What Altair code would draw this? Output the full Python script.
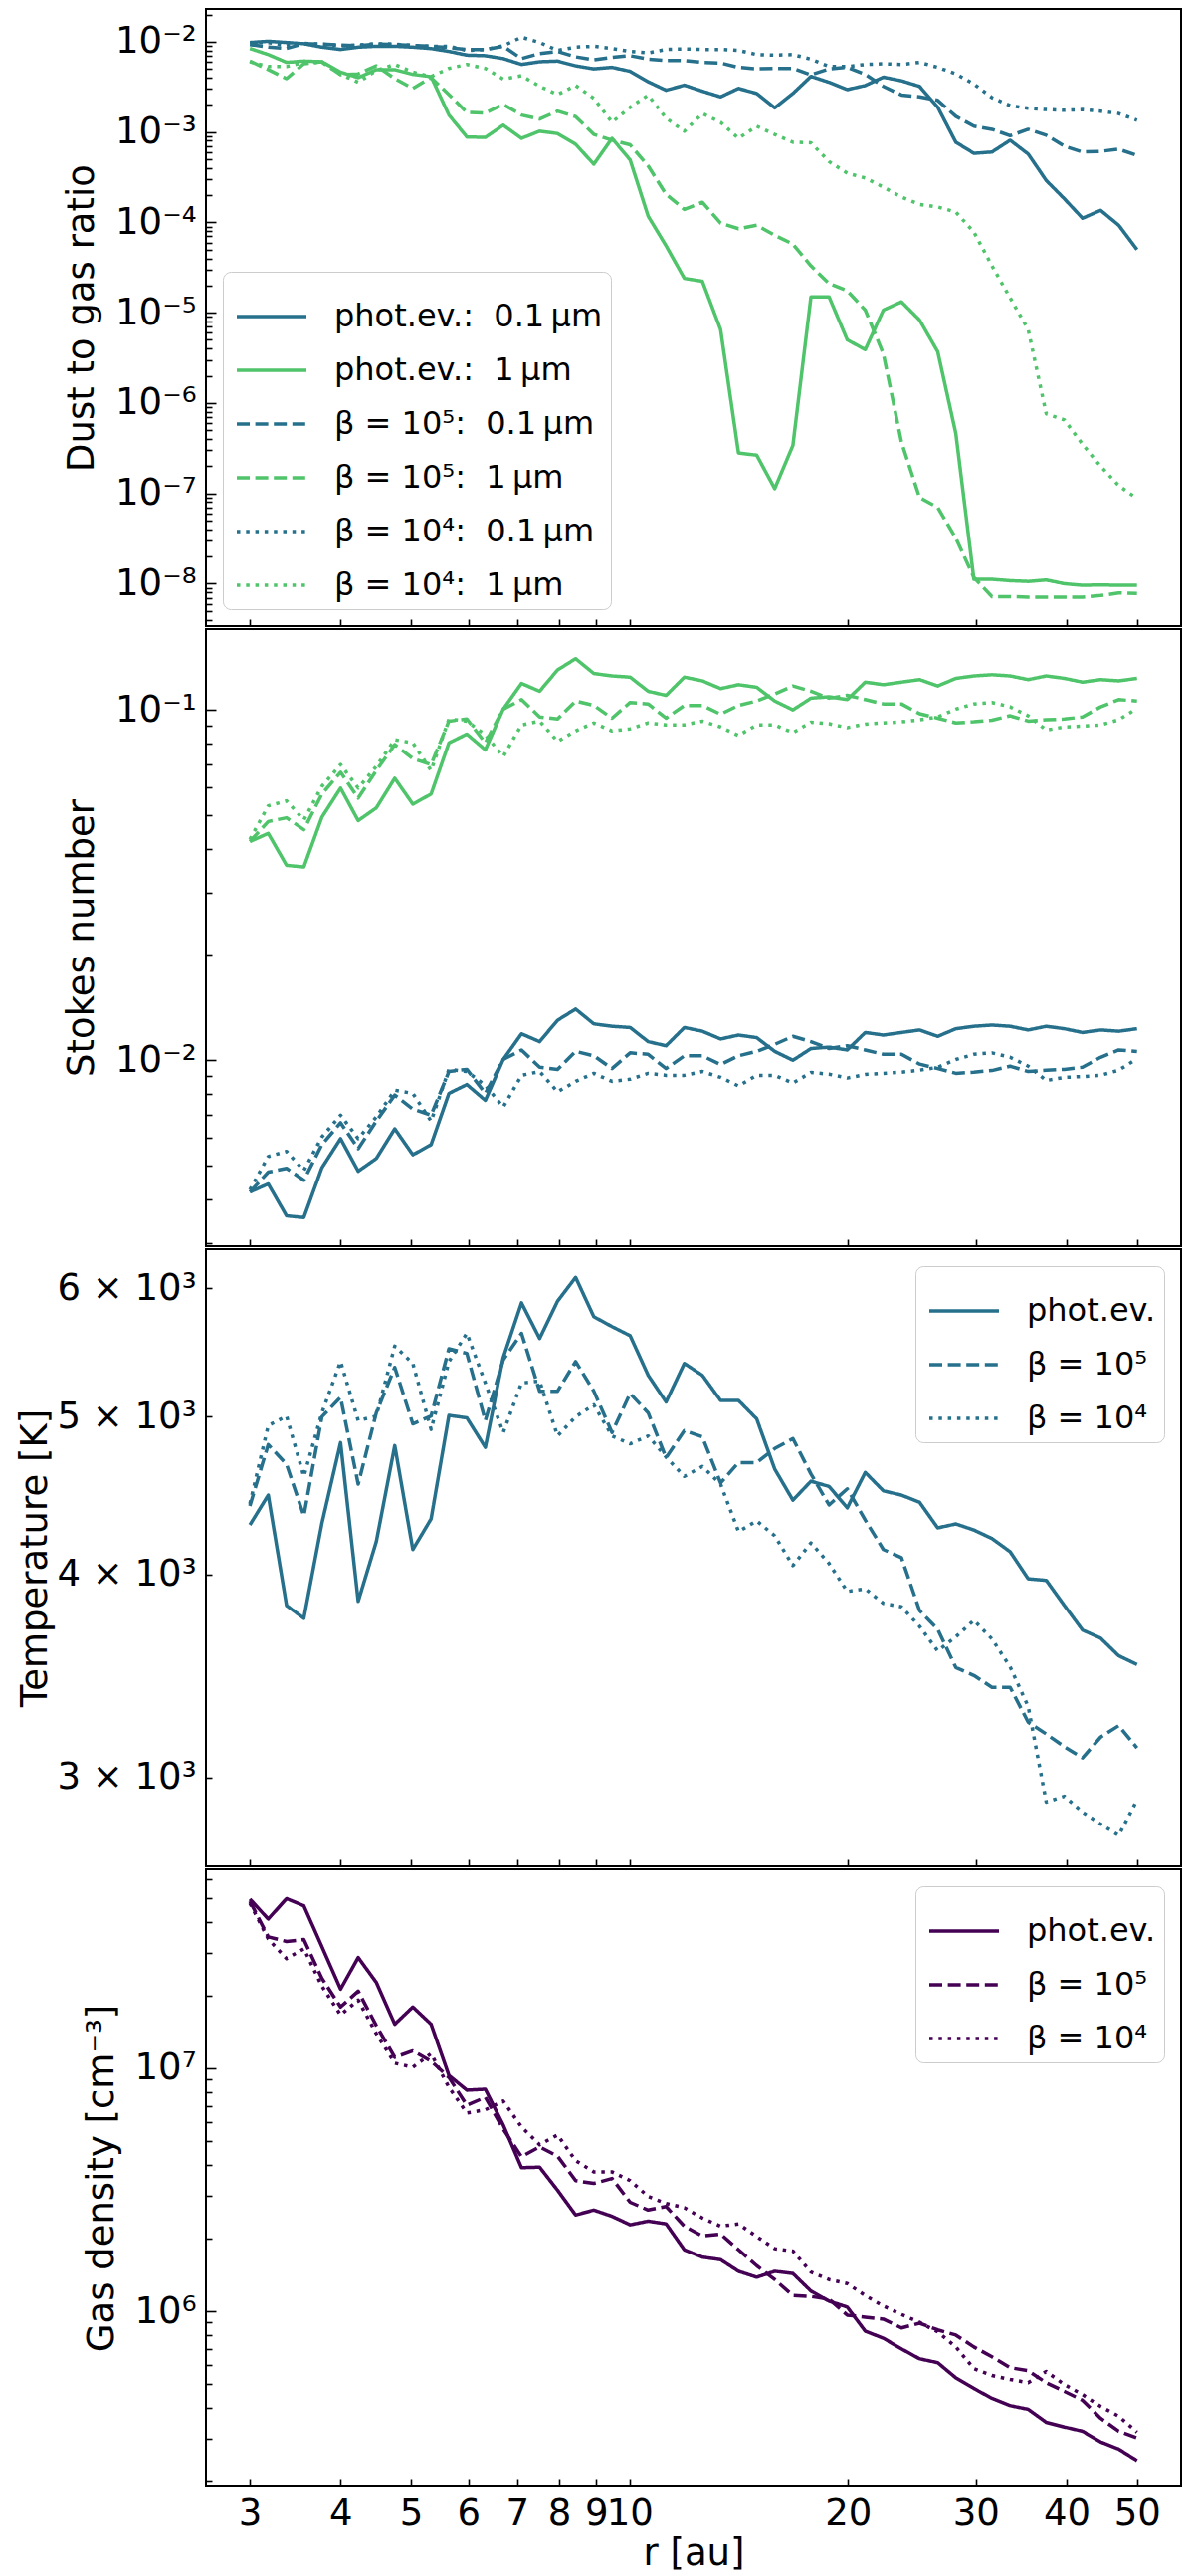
import altair as alt
import pandas as pd

# radius grid [au]
R = [3.00, 3.18, 3.37, 3.56, 3.77, 4.00, 4.23, 4.48, 4.75, 5.03,
     5.33, 5.64, 5.97, 6.33, 6.70, 7.10, 7.52, 7.96, 8.43, 8.93,
     9.46, 10.02, 10.61, 11.23, 11.90, 12.60, 13.35, 14.13, 14.97, 15.85,
     16.79, 17.78, 18.83, 19.95, 21.12, 22.37, 23.69, 25.09, 26.58, 28.15,
     29.81, 31.57, 33.44, 35.41, 37.50, 39.72, 42.07, 44.55, 47.18, 50.00]

# dust to gas ratio
DTG_PE_01 = [9.8e-3, 1.01e-2, 9.8e-3, 9.5e-3, 8.7e-3, 8.2e-3, 8.7e-3, 8.9e-3, 8.9e-3, 8.7e-3,
             8.4e-3, 7.8e-3, 7.1e-3, 7.0e-3, 6.5e-3, 5.6e-3, 6.0e-3, 6.1e-3, 5.4e-3, 5.0e-3,
             5.2e-3, 4.7e-3, 3.6e-3, 2.9e-3, 3.3e-3, 2.83e-3, 2.45e-3, 3.04e-3, 2.67e-3, 1.85e-3,
             2.67e-3, 4.13e-3, 3.55e-3, 2.95e-3, 3.27e-3, 4.05e-3, 3.69e-3, 3.2e-3, 1.88e-3, 7.7e-4,
             5.8e-4, 6.0e-4, 8.1e-4, 5.7e-4, 2.9e-4, 1.82e-4, 1.11e-4, 1.36e-4, 9.3e-5, 5.0e-5]
DTG_PE_1 = [8.4e-3, 7.2e-3, 5.9e-3, 6.1e-3, 6.0e-3, 4.6e-3, 4.0e-3, 4.9e-3, 4.9e-3, 4.35e-3,
            4.1e-3, 1.54e-3, 8.8e-4, 8.7e-4, 1.19e-3, 8.5e-4, 1.02e-3, 9.6e-4, 7.3e-4, 4.4e-4,
            8.5e-4, 4.9e-4, 1.17e-4, 5.5e-5, 2.4e-5, 2.23e-5, 6.5e-6, 2.8e-7, 2.65e-7, 1.13e-7,
            3.4e-7, 1.5e-5, 1.5e-5, 5.0e-6, 3.9e-6, 1.07e-5, 1.32e-5, 8.3e-6, 3.7e-6, 4.6e-7,
            1.12e-8, 1.12e-8, 1.08e-8, 1.06e-8, 1.10e-8, 1.0e-8, 9.6e-9, 9.7e-9, 9.6e-9, 9.6e-9]
DTG_B5_01 = [9.3e-3, 8.7e-3, 8.4e-3, 9.5e-3, 9.4e-3, 9.2e-3, 9.0e-3, 9.4e-3, 9.3e-3, 9.1e-3,
             8.9e-3, 8.6e-3, 8.2e-3, 8.2e-3, 8.9e-3, 6.5e-3, 7.4e-3, 7.8e-3, 6.8e-3, 6.3e-3,
             6.7e-3, 7.0e-3, 6.4e-3, 6.2e-3, 6.2e-3, 5.9e-3, 5.8e-3, 5.2e-3, 5.0e-3, 5.06e-3,
             5.06e-3, 4.3e-3, 5.0e-3, 5.2e-3, 4.35e-3, 3.2e-3, 2.57e-3, 2.45e-3, 2.24e-3, 1.49e-3,
             1.16e-3, 1.07e-3, 9.1e-4, 1.07e-3, 9.2e-4, 6.95e-4, 6.0e-4, 6.1e-4, 6.45e-4, 5.5e-4]
DTG_B5_1 = [6.1e-3, 4.9e-3, 3.9e-3, 5.7e-3, 6.0e-3, 4.3e-3, 4.4e-3, 5.4e-3, 3.9e-3, 3.04e-3,
            4.0e-3, 2.6e-3, 1.65e-3, 1.62e-3, 2.02e-3, 1.54e-3, 1.39e-3, 1.70e-3, 1.48e-3, 9.4e-4,
            8.1e-4, 7.2e-4, 4.2e-4, 2.04e-4, 1.39e-4, 1.67e-4, 9.8e-5, 8.5e-5, 9.3e-5, 7.2e-5,
            5.75e-5, 3.3e-5, 2.1e-5, 1.75e-5, 1.07e-5, 3.5e-6, 3.7e-7, 9.0e-8, 7.0e-8, 3.2e-8,
            1.17e-8, 7.2e-9, 7.2e-9, 7.1e-9, 7.1e-9, 7.1e-9, 7.1e-9, 7.4e-9, 7.9e-9, 7.8e-9]
DTG_B4_01 = [9.8e-3, 9.8e-3, 9.0e-3, 9.6e-3, 9.4e-3, 9.0e-3, 9.2e-3, 9.5e-3, 9.4e-3, 9.1e-3,
             8.9e-3, 8.9e-3, 8.0e-3, 8.2e-3, 9.0e-3, 1.12e-2, 9.8e-3, 8.0e-3, 8.7e-3, 8.9e-3,
             8.4e-3, 7.8e-3, 7.5e-3, 8.2e-3, 8.3e-3, 8.2e-3, 8.2e-3, 8.0e-3, 7.2e-3, 7.1e-3,
             7.2e-3, 6.4e-3, 5.3e-3, 5.3e-3, 5.6e-3, 5.7e-3, 5.6e-3, 5.9e-3, 5.2e-3, 4.4e-3,
             3.4e-3, 2.4e-3, 1.96e-3, 1.83e-3, 1.77e-3, 1.74e-3, 1.77e-3, 1.70e-3, 1.60e-3, 1.35e-3]
DTG_B4_1 = [6.0e-3, 5.3e-3, 5.3e-3, 5.9e-3, 5.9e-3, 4.35e-3, 3.55e-3, 4.8e-3, 5.6e-3, 4.6e-3,
            4.1e-3, 5.06e-3, 5.6e-3, 5.06e-3, 3.85e-3, 4.2e-3, 3.2e-3, 2.6e-3, 3.27e-3, 2.36e-3,
            1.28e-3, 1.88e-3, 2.56e-3, 1.42e-3, 1.02e-3, 1.60e-3, 1.28e-3, 8.5e-4, 1.16e-3, 9.4e-4,
            7.7e-4, 7.6e-4, 4.7e-4, 3.5e-4, 3.1e-4, 2.45e-4, 1.9e-4, 1.58e-4, 1.48e-4, 1.30e-4,
            7.8e-5, 3.3e-5, 1.46e-5, 6.5e-6, 7.6e-7, 6.5e-7, 3.5e-7, 2.0e-7, 1.22e-7, 8.8e-8]

# Stokes number
ST_PE_01 = [4.21e-3, 4.44e-3, 3.60e-3, 3.56e-3, 4.94e-3, 5.98e-3, 4.83e-3, 5.25e-3, 6.38e-3, 5.38e-3,
            5.75e-3, 8.05e-3, 8.53e-3, 7.69e-3, 1.005e-2, 1.19e-2, 1.13e-2, 1.30e-2, 1.40e-2, 1.27e-2,
            1.25e-2, 1.24e-2, 1.13e-2, 1.10e-2, 1.24e-2, 1.21e-2, 1.15e-2, 1.18e-2, 1.16e-2, 1.06e-2,
            1.00e-2, 1.08e-2, 1.09e-2, 1.07e-2, 1.20e-2, 1.18e-2, 1.20e-2, 1.22e-2, 1.17e-2, 1.23e-2,
            1.25e-2, 1.26e-2, 1.25e-2, 1.22e-2, 1.25e-2, 1.23e-2, 1.20e-2, 1.22e-2, 1.21e-2, 1.23e-2]
ST_PE_1 = [4.21e-2, 4.44e-2, 3.60e-2, 3.56e-2, 4.94e-2, 5.98e-2, 4.83e-2, 5.25e-2, 6.38e-2, 5.38e-2,
           5.75e-2, 8.05e-2, 8.53e-2, 7.69e-2, 0.1005, 0.119, 0.113, 0.130, 0.140, 0.127,
           0.125, 0.124, 0.113, 0.110, 0.124, 0.121, 0.115, 0.118, 0.116, 0.106,
           0.100, 0.108, 0.109, 0.107, 0.120, 0.118, 0.120, 0.122, 0.117, 0.123,
           0.125, 0.126, 0.125, 0.122, 0.125, 0.123, 0.120, 0.122, 0.121, 0.123]
ST_B5_01 = [4.21e-3, 4.80e-3, 4.92e-3, 4.55e-3, 5.75e-3, 6.64e-3, 5.60e-3, 6.71e-3, 7.96e-3, 7.26e-3,
            6.98e-3, 9.29e-3, 9.42e-3, 8.05e-3, 1.005e-2, 1.07e-2, 9.55e-3, 9.42e-3, 1.06e-2, 1.03e-2,
            9.47e-3, 1.05e-2, 1.04e-2, 9.47e-3, 1.03e-2, 1.03e-2, 9.72e-3, 1.03e-2, 1.06e-2, 1.11e-2,
            1.17e-2, 1.13e-2, 1.08e-2, 1.10e-2, 1.07e-2, 1.04e-2, 1.04e-2, 9.75e-3, 9.47e-3, 9.18e-3,
            9.25e-3, 9.35e-3, 9.62e-3, 9.29e-3, 9.37e-3, 9.42e-3, 9.55e-3, 1.02e-2, 1.07e-2, 1.06e-2]
ST_B5_1 = [4.21e-2, 4.80e-2, 4.92e-2, 4.55e-2, 5.75e-2, 6.64e-2, 5.60e-2, 6.71e-2, 7.96e-2, 7.26e-2,
           6.98e-2, 9.29e-2, 9.42e-2, 8.05e-2, 0.1005, 0.107, 9.55e-2, 9.42e-2, 0.106, 0.103,
           9.47e-2, 0.105, 0.104, 9.47e-2, 0.103, 0.103, 9.72e-2, 0.103, 0.106, 0.111,
           0.117, 0.113, 0.108, 0.110, 0.107, 0.104, 0.104, 9.75e-2, 9.47e-2, 9.18e-2,
           9.25e-2, 9.35e-2, 9.62e-2, 9.29e-2, 9.37e-2, 9.42e-2, 9.55e-2, 0.102, 0.107, 0.106]
ST_B4_01 = [4.27e-3, 5.32e-3, 5.50e-3, 4.85e-3, 6.05e-3, 6.98e-3, 5.98e-3, 6.90e-3, 8.22e-3, 8.05e-3,
            6.71e-3, 9.42e-3, 9.29e-3, 8.49e-3, 7.36e-3, 9.06e-3, 9.29e-3, 8.13e-3, 8.71e-3, 9.18e-3,
            8.71e-3, 8.83e-3, 9.18e-3, 9.06e-3, 9.06e-3, 9.29e-3, 8.94e-3, 8.45e-3, 9.06e-3, 9.06e-3,
            8.61e-3, 9.23e-3, 9.13e-3, 8.90e-3, 9.11e-3, 9.18e-3, 9.25e-3, 9.37e-3, 9.55e-3, 1.005e-2,
            1.04e-2, 1.05e-2, 1.02e-2, 9.62e-3, 8.76e-3, 8.94e-3, 8.99e-3, 9.06e-3, 9.37e-3, 1.01e-2]
ST_B4_1 = [4.27e-2, 5.32e-2, 5.50e-2, 4.85e-2, 6.05e-2, 6.98e-2, 5.98e-2, 6.90e-2, 8.22e-2, 8.05e-2,
           6.71e-2, 9.42e-2, 9.29e-2, 8.49e-2, 7.36e-2, 9.06e-2, 9.29e-2, 8.13e-2, 8.71e-2, 9.18e-2,
           8.71e-2, 8.83e-2, 9.18e-2, 9.06e-2, 9.06e-2, 9.29e-2, 8.94e-2, 8.45e-2, 9.06e-2, 9.06e-2,
           8.61e-2, 9.23e-2, 9.13e-2, 8.90e-2, 9.11e-2, 9.18e-2, 9.25e-2, 9.37e-2, 9.55e-2, 0.1005,
           0.104, 0.105, 0.102, 9.62e-2, 8.76e-2, 8.94e-2, 8.99e-2, 9.06e-2, 9.37e-2, 0.101]

# temperature [K]
T_PE = [4290, 4475, 3827, 3758, 4300, 4820, 3850, 4190, 4800, 4143,
        4327, 5010, 4992, 4788, 5437, 5876, 5587, 5890, 6092, 5762,
        5682, 5609, 5303, 5106, 5393, 5303, 5117, 5117, 4985, 4643,
        4443, 4564, 4530, 4395, 4621, 4502, 4475, 4430, 4272, 4296,
        4259, 4208, 4130, 3975, 3966, 3827, 3696, 3654, 3564, 3520]
T_B5 = [4407, 4807, 4674, 4345, 5000, 5140, 4545, 5028, 5363, 4950,
        5005, 5506, 5470, 4973, 5420, 5628, 5185, 5185, 5407, 5185,
        4890, 5168, 5028, 4719, 4903, 4860, 4552, 4686, 4686, 4780,
        4848, 4611, 4413, 4515, 4320, 4143, 4096, 3800, 3700, 3505,
        3466, 3408, 3408, 3244, 3190, 3133, 3084, 3176, 3228, 3128]
T_B4 = [4420, 4938, 5005, 4595, 5028, 5407, 4973, 5005, 5527, 5393,
        4911, 5407, 5628, 5245, 4890, 5245, 5260, 4866, 5000, 5085,
        4866, 4812, 4866, 4722, 4595, 4660, 4545, 4250, 4315, 4224,
        4050, 4182, 4062, 3904, 3919, 3839, 3820, 3716, 3588, 3661,
        3748, 3650, 3508, 3317, 2897, 2921, 2856, 2808, 2763, 2905]

# gas density [cm^-3]
N_PE = [4.98e7, 4.12e7, 5.0e7, 4.67e7, 3.17e7, 2.12e7, 2.86e7, 2.26e7, 1.52e7, 1.79e7,
        1.52e7, 9.35e6, 8.13e6, 8.2e6, 5.85e6, 3.90e6, 3.92e6, 3.15e6, 2.49e6, 2.61e6,
        2.46e6, 2.27e6, 2.35e6, 2.29e6, 1.79e6, 1.67e6, 1.63e6, 1.46e6, 1.38e6, 1.46e6,
        1.43e6, 1.21e6, 1.10e6, 1.04e6, 8.28e5, 7.74e5, 7.0e5, 6.37e5, 6.14e5, 5.32e5,
        4.81e5, 4.38e5, 4.09e5, 3.95e5, 3.49e5, 3.34e5, 3.21e5, 2.90e5, 2.71e5, 2.43e5]
N_B5 = [4.88e7, 3.48e7, 3.33e7, 3.39e7, 2.35e7, 1.79e7, 2.08e7, 1.50e7, 1.11e7, 1.18e7,
        1.07e7, 9.17e6, 7.05e6, 7.6e6, 5.62e6, 4.33e6, 4.75e6, 4.35e6, 3.45e6, 3.36e6,
        3.52e6, 2.81e6, 2.61e6, 2.70e6, 2.24e6, 2.04e6, 2.08e6, 1.79e6, 1.54e6, 1.35e6,
        1.16e6, 1.15e6, 1.12e6, 9.64e5, 9.46e5, 9.28e5, 8.54e5, 8.93e5, 8.38e5, 7.98e5,
        7.13e5, 6.49e5, 5.86e5, 5.69e5, 5.08e5, 4.68e5, 4.30e5, 3.63e5, 3.21e5, 3.01e5]
N_B4 = [4.79e7, 3.41e7, 2.83e7, 3.11e7, 2.18e7, 1.66e7, 1.91e7, 1.39e7, 1.05e7, 1.01e7,
        1.15e7, 8.35e6, 6.55e6, 6.75e6, 7.33e6, 5.74e6, 4.85e6, 5.32e6, 4.17e6, 3.75e6,
        3.75e6, 3.45e6, 2.97e6, 2.78e6, 2.67e6, 2.42e6, 2.24e6, 2.29e6, 2.03e6, 1.81e6,
        1.77e6, 1.45e6, 1.35e6, 1.30e6, 1.16e6, 1.05e6, 9.7e5, 9.0e5, 8.22e5, 7.13e5,
        5.8e5, 5.44e5, 5.24e5, 5.08e5, 5.65e5, 4.99e5, 4.54e5, 4.06e5, 3.70e5, 3.18e5]

# legend labels (non-breaking spaces keep the double gap)
DTG_LABELS = ['phot.ev.:\u00a0\u00a00.1\u2009μm', 'phot.ev.:\u00a0\u00a01\u2009μm',
              'β = 10⁵:\u00a0\u00a00.1\u2009μm', 'β = 10⁵:\u00a0\u00a01\u2009μm',
              'β = 10⁴:\u00a0\u00a00.1\u2009μm', 'β = 10⁴:\u00a0\u00a01\u2009μm']
MODEL_LABELS = ['phot.ev.', 'β = 10⁵', 'β = 10⁴']

# axis ticks and tick labels
X_TICKS = [3, 4, 5, 6, 7, 8, 9, 10, 20, 30, 40, 50]
DTG_TICKS = [1e-8, 1e-7, 1e-6, 1e-5, 1e-4, 1e-3, 1e-2]
DTG_TICK_LABELS = ['10⁻⁸', '10⁻⁷', '10⁻⁶', '10⁻⁵', '10⁻⁴', '10⁻³', '10⁻²']
ST_TICKS = [1e-2, 1e-1]
ST_TICK_LABELS = ['10⁻²', '10⁻¹']
T_TICKS = [3000, 4000, 5000, 6000]
T_TICK_LABELS = ['3 × 10³', '4 × 10³', '5 × 10³', '6 × 10³']
N_TICKS = [1e6, 1e7]
N_TICK_LABELS = ['10⁶', '10⁷']

X_DOMAIN = [2.61, 57.5]
DTG_DOMAIN = [3.4e-9, 2.3e-2]
ST_DOMAIN = [2.95e-3, 0.17]
T_DOMAIN = [2645, 6340]
N_DOMAIN = [1.9e5, 6.6e7]

BLUE = '#26708c'
GREEN = '#4fc46a'
PURPLE = '#440154'
LW = 3.5
SOLID = [1, 0]
DASHED = [13, 5.6]
DOTTED = [3.5, 5.8]

W, H = 980, 620
FONT = 'DejaVu Sans'


def table(labels, series):
    rows = []
    for lab, vals in zip(labels, series):
        for r, v in zip(R, vals):
            rows.append({'r': r, 'v': v, 'label': lab})
    return pd.DataFrame(rows)


def label_expr(values, texts):
    expr = "''"
    for v, t in zip(reversed(values), reversed(texts)):
        expr = f"abs(datum.value / {v!r} - 1) < 1e-6 ? '{t}' : ({expr})"
    return expr


def minor_ticks(lo, hi):
    return [m * 10.0 ** e for e in range(-10, 9) for m in range(2, 10)
            if lo <= m * 10.0 ** e <= hi]


def x_enc(show):
    return alt.X('r:Q', scale=alt.Scale(type='log', domain=X_DOMAIN, nice=False),
                 axis=alt.Axis(values=X_TICKS, labels=show, labelExpr="format(datum.value, 'd')",
                               tickSize=7, offset=-7, domain=False, grid=False,
                               labelOverlap=False, labelFlush=False, labelPadding=9,
                               title='r [au]' if show else None, titlePadding=4))


def panel(df, labels, colors, dashes, ydom, ticks, tick_labels, minor, tsize,
          ytitle, tpad, lorient, show_x=False):
    if lorient:
        leg = alt.Legend(title=None, orient=lorient, offset=17, labelFontSize=32,
                         symbolType='stroke', symbolSize=4900, symbolStrokeWidth=LW,
                         symbolOffset=4, labelOffset=26, padding=8, rowPadding=1,
                         fillColor='white', strokeColor='#cccccc', cornerRadius=8,
                         labelLimit=0)
    else:
        leg = None
    yscale = alt.Scale(type='log', domain=ydom, nice=False)
    lines = alt.Chart(df).mark_line(strokeWidth=LW, strokeJoin='round').encode(
        x=x_enc(show_x),
        y=alt.Y('v:Q', scale=yscale,
                axis=alt.Axis(orient='left', values=ticks, labelExpr=label_expr(ticks, tick_labels),
                              tickSize=tsize, offset=-tsize, domain=False, grid=False,
                              labelOverlap=False, labelPadding=10,
                              title=ytitle, titlePadding=tpad)),
        color=alt.Color('label:N', scale=alt.Scale(domain=labels, range=colors), legend=leg),
        strokeDash=alt.StrokeDash('label:N', scale=alt.Scale(domain=labels, range=dashes), legend=leg),
    )
    if not minor:
        return lines.properties(width=W, height=H)
    ghost = alt.Chart(df).mark_line(strokeOpacity=0).encode(
        x=x_enc(show_x),
        y=alt.Y('v:Q', scale=yscale,
                axis=alt.Axis(orient='left', values=minor, labels=False, tickSize=6, offset=-6,
                              domain=False, grid=False, title=None)),
        detail='label:N',
    )
    return alt.layer(lines, ghost).resolve_axis(y='independent').properties(width=W, height=H)


p1 = panel(table(DTG_LABELS, [DTG_PE_01, DTG_PE_1, DTG_B5_01, DTG_B5_1, DTG_B4_01, DTG_B4_1]),
           DTG_LABELS, [BLUE, GREEN] * 3, [SOLID, SOLID, DASHED, DASHED, DOTTED, DOTTED],
           DTG_DOMAIN, DTG_TICKS, DTG_TICK_LABELS, minor_ticks(*DTG_DOMAIN), 10,
           'Dust to gas ratio', 14, 'bottom-left')
p2 = panel(table(DTG_LABELS, [ST_PE_01, ST_PE_1, ST_B5_01, ST_B5_1, ST_B4_01, ST_B4_1]),
           DTG_LABELS, [BLUE, GREEN] * 3, [SOLID, SOLID, DASHED, DASHED, DOTTED, DOTTED],
           ST_DOMAIN, ST_TICKS, ST_TICK_LABELS, minor_ticks(*ST_DOMAIN), 10,
           'Stokes number', 14, '')
p3 = panel(table(MODEL_LABELS, [T_PE, T_B5, T_B4]),
           MODEL_LABELS, [BLUE] * 3, [SOLID, DASHED, DOTTED],
           T_DOMAIN, T_TICKS, T_TICK_LABELS, [], 6,
           'Temperature [K]', 3, 'top-right')
p4 = panel(table(MODEL_LABELS, [N_PE, N_B5, N_B4]),
           MODEL_LABELS, [PURPLE] * 3, [SOLID, DASHED, DOTTED],
           N_DOMAIN, N_TICKS, N_TICK_LABELS, minor_ticks(*N_DOMAIN), 10,
           'Gas density [cm⁻³]', 14, 'top-right', show_x=True)

chart = alt.vconcat(p1, p2, p3, p4, spacing=0).resolve_scale(
    y='independent', color='independent', strokeDash='independent'
).resolve_legend(
    color='independent', strokeDash='independent'
).properties(
    padding={'left': 7, 'top': 0, 'right': 0, 'bottom': 0}
).configure(
    font=FONT
).configure_view(
    stroke='black', strokeWidth=2
).configure_axis(
    labelFont=FONT, titleFont=FONT, labelFontSize=37, titleFontSize=37,
    titleFontWeight='normal', labelColor='black', titleColor='black',
    tickColor='black', tickWidth=1.6
).configure_legend(
    labelFont=FONT, labelColor='black'
)

chart.save('out.html', embed_options={'renderer': 'svg', 'actions': False})
